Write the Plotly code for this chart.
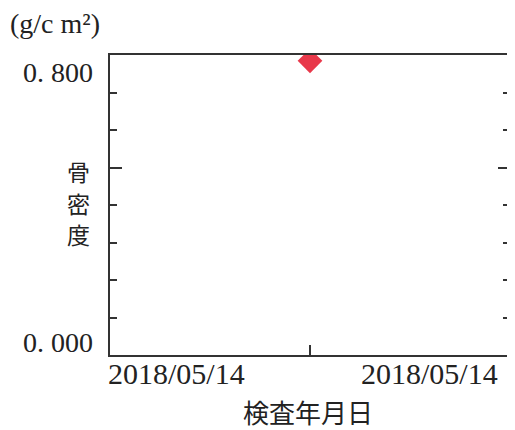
import plotly.graph_objects as go
from datetime import datetime, timedelta

# data
dates = ["2018-05-14"]
bmd = [0.833]
y_tick_vals = [0.0, 0.8]
y_tick_text = ["0. 000", "0. 800"]
x_tick_labels = ["2018/05/14", "2018/05/14"]
unit_label = "(g/c m²)"
y_title = "骨密度"
x_title = "検査年月日"

serif = "Liberation Serif, DejaVu Serif, Noto Sans CJK JP, serif"
cjk = "Noto Sans CJK JP, sans-serif"

d0 = datetime.strptime(dates[0], "%Y-%m-%d")
x_range = [d0 - timedelta(days=1), d0 + timedelta(days=1)]

fig = go.Figure()
fig.add_trace(go.Scatter(
    x=dates, y=bmd, mode="markers",
    marker=dict(symbol="diamond", size=19, color="#E8384A", line=dict(width=0)),
    showlegend=False, hoverinfo="skip",
))
# helper traces so the tick-mark axes are drawn
fig.add_trace(go.Scatter(x=dates, y=[None], yaxis="y2", mode="markers",
                         showlegend=False, hoverinfo="skip"))
fig.add_trace(go.Scatter(x=dates, y=[None], yaxis="y3", mode="markers",
                         showlegend=False, hoverinfo="skip"))

tick_axis = dict(
    overlaying="y", range=[0, 8], anchor="x",
    showgrid=False, zeroline=False,
    showline=True, linecolor="#333", linewidth=1.5,
    tickmode="array", tickvals=[5], ticks="inside", ticklen=12,
    tickcolor="#333", tickwidth=1.5, showticklabels=False,
    minor=dict(dtick=1, ticks="inside", ticklen=7, tickcolor="#333", tickwidth=1.5),
)

fig.update_layout(
    width=507, height=422,
    margin=dict(l=102, r=5, t=47, b=75, autoexpand=False),
    paper_bgcolor="white", plot_bgcolor="white",
    font=dict(family=serif, color="#222"),
    xaxis=dict(
        type="date", range=x_range,
        showgrid=False, zeroline=False,
        showline=True, linecolor="#333", linewidth=1.5, mirror=True,
        tickmode="array", tickvals=[dates[0]], ticks="inside", ticklen=10,
        tickcolor="#333", tickwidth=1.5, showticklabels=False,
    ),
    yaxis=dict(
        range=[-0.0385, 0.8504],
        showgrid=False, zeroline=False, showline=False,
        tickmode="array", tickvals=y_tick_vals, ticktext=y_tick_text,
        ticks="", tickfont=dict(family=serif, size=28, color="#222"),
        ticklabelstandoff=16,
    ),
    yaxis2=dict(side="left", **tick_axis),
    yaxis3=dict(side="right", **tick_axis),
    annotations=[
        dict(text=unit_label, xref="paper", yref="paper", x=-0.255, y=1.0,
             xanchor="left", yanchor="bottom", yshift=14, showarrow=False,
             font=dict(family=serif, size=28, color="#222")),
        *[dict(text=ch, xref="paper", yref="paper", x=-0.078, y=0.612 - 0.104 * i,
               xanchor="center", yanchor="middle", showarrow=False,
               font=dict(family=cjk, size=23, color="#222"))
          for i, ch in enumerate(y_title)],
        dict(text=x_tick_labels[0], xref="paper", yref="paper", x=0.0, y=0,
             xanchor="left", yanchor="top", xshift=-4, yshift=0, showarrow=False,
             font=dict(family=serif, size=30, color="#222")),
        dict(text=x_tick_labels[1], xref="paper", yref="paper", x=1.0, y=0,
             xanchor="right", yanchor="top", xshift=-10, yshift=0, showarrow=False,
             font=dict(family=serif, size=30, color="#222")),
        dict(text=x_title, xref="paper", yref="paper", x=0.495, y=0,
             xanchor="center", yanchor="top", yshift=-36, showarrow=False,
             font=dict(family=cjk, size=26, color="#222")),
    ],
)

fig.write_html("out.html")
